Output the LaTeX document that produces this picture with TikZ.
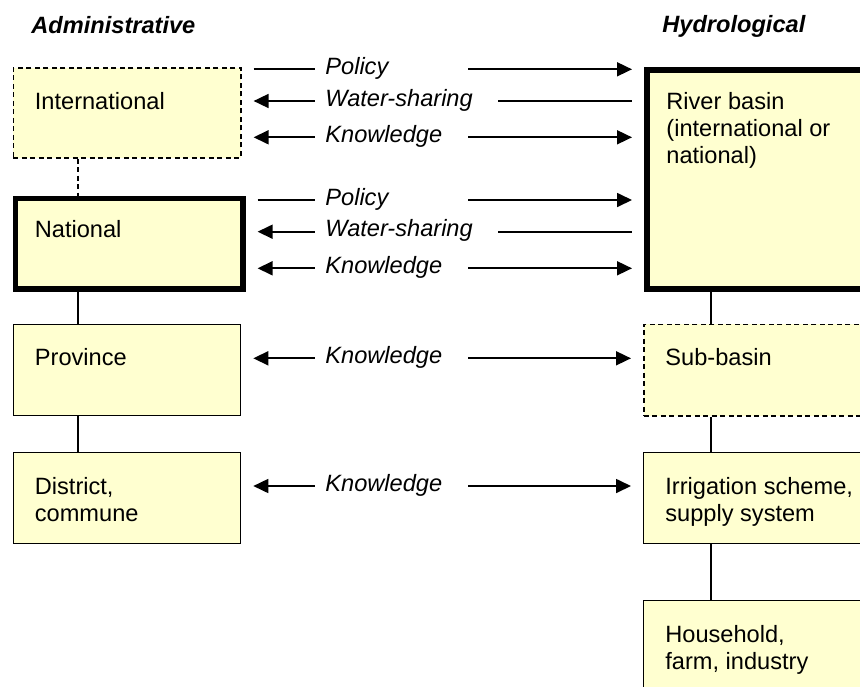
\documentclass[tikz,border=0pt]{standalone}
\usepackage{fontspec}
\setmainfont{Liberation Sans}
\usetikzlibrary{%
    arrows.meta,
    positioning
}

\definecolor{boxfill}{RGB}{255,255,208}

\tikzset{
    tierbox/.style={draw, fill=boxfill, line width=.65pt, inner sep=0pt,
                    minimum width=113.75pt, anchor=north west},
    dashbox/.style={line width=.8pt, dash pattern=on 2.5pt off 1.75pt},
    thickbox/.style={line width=2.8pt},
    boxtext/.style={anchor=north west, align=left, inner sep=0pt,
                    xshift=11pt, yshift=-12.3pt,
                    font=\fontsize{11.8}{13.5}\selectfont},
    heading/.style={anchor=base west, inner sep=0pt,
                    font=\fontsize{11.8}{13.5}\selectfont\bfseries\itshape},
    flow/.style={anchor=mid west, inner sep=0pt,
                 font=\fontsize{11.8}{13.5}\selectfont\itshape},
    flowline/.style={line width=.85pt},
    link/.style={line width=.65pt},
    arrfwd/.style={-{Triangle[length=7.5pt,width=7pt]}},
    arrback/.style={{Triangle[length=7.5pt,width=7pt]}-},
    noarr/.style={}
}

\begin{document}
\begin{tikzpicture}[x=0.5pt, y=-0.5pt]
    \useasboundingbox (0,0) rectangle (860,686);
    \clip (0,0) rectangle (860,686);

    % administrative levels
    \node[heading] (admin) at (31,33) {Administrative};
    \node[tierbox, dashbox, minimum height=45pt,
          label={[boxtext]north west:{International}}] (intl) at (12.5,67) {};
    \node[tierbox, thickbox, minimum height=45.25pt,
          label={[boxtext]north west:{National}}] (natl) at (12.5,195.5) {};
    \node[tierbox, minimum height=45.5pt,
          label={[boxtext]north west:{Province}}] (prov) at (12.5,323.5) {};
    \node[tierbox, minimum height=45.5pt,
          label={[boxtext]north west:{District,\\commune}}] (dist) at (12.5,452) {};

    % hydrological levels
    \node[heading] (hydro) at (662,32) {Hydrological};
    \node[tierbox, thickbox, minimum height=109.5pt,
          label={[boxtext]north west:{River basin\\(international or\\national)}}] (rb) at (644,67) {};
    \node[tierbox, dashbox, minimum height=45.75pt,
          label={[boxtext]north west:{Sub-basin}}] (sub) at (643,323.5) {};
    \node[tierbox, minimum height=45.5pt,
          label={[boxtext]north west:{Irrigation scheme,\\supply system}}] (irr) at (643,452) {};
    \node[tierbox, minimum height=45.5pt,
          label={[boxtext]north west:{Household,\\farm, industry}}] (house) at (643,600) {};

    % links inside each hierarchy
    \draw[link, dashbox] ([xshift=32.75pt]intl.south west) -- ([xshift=32.75pt]natl.north west);
    \draw[link] ([xshift=32.75pt]natl.south west) -- ([xshift=32.75pt]prov.north west);
    \draw[link] ([xshift=32.75pt]prov.south west) -- ([xshift=32.75pt]dist.north west);
    \draw[link] ([xshift=33.5pt]rb.south west) -- ([xshift=34pt]sub.north west);
    \draw[link] ([xshift=34pt]sub.south west) -- ([xshift=34pt]irr.north west);
    \draw[link] ([xshift=34pt]irr.south west) -- ([xshift=34pt]house.north west);

    % flows between the two sides
    \foreach \Row/\Y/\Text/\Left/\Right/\From/\To/\Start in {%
        p1/69.3/Policy/noarr/arrfwd/intl/rb/468,
        w1/101/Water-sharing/arrback/noarr/intl/rb/498,
        k1/137.3/Knowledge/arrback/arrfwd/intl/rb/468,
        p2/200/Policy/noarr/arrfwd/natl/rb/468,
        w2/231.7/Water-sharing/arrback/noarr/natl/rb/498,
        k2/268.3/Knowledge/arrback/arrfwd/natl/rb/468,
        k3/358.3/Knowledge/arrback/arrfwd/prov/sub/468,
        k4/486/Knowledge/arrback/arrfwd/dist/irr/468%
        }
    {
        \node[flow] (\Row) at (325,\Y) {\Text};
        \draw[flowline, \Left] ([xshift=6pt]\From.east |- \Row.mid) -- ([xshift=-5pt]\Row.mid west);
        \draw[flowline, \Right] (\Start,\Y) -- ([xshift=-6pt]\To.west |- \Row.mid);
    }
\end{tikzpicture}
\end{document}
